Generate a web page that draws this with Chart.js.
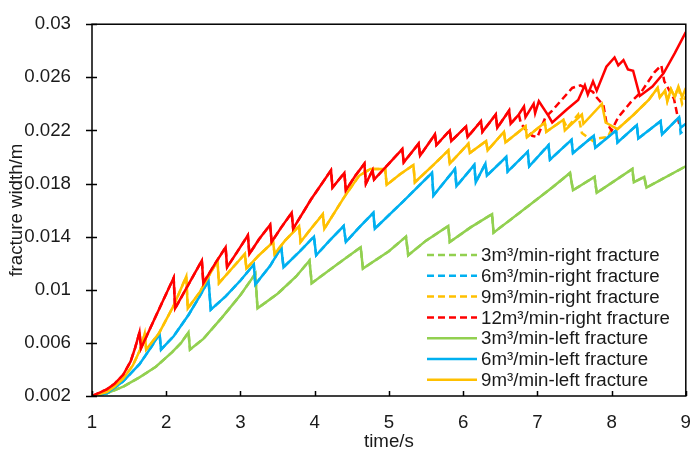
<!DOCTYPE html>
<html>
<head>
<meta charset="utf-8">
<title>fracture width</title>
<script src="https://cdn.jsdelivr.net/npm/chart.js@4"></script>
<style>
    html, body { margin: 0; padding: 0; background: #fff; }
    #wrap { width: 699px; height: 450px; }
</style>
</head>
<body>
<div id="wrap"><canvas id="widthChart" width="699" height="450"></canvas></div>
<script>
// axis ticks
const xTicks = [1, 2, 3, 4, 5, 6, 7, 8, 9];
const yTicks = [0.002, 0.006, 0.01, 0.014, 0.018, 0.022, 0.026, 0.03];

// [time s, width m]
const green3Left = [[1,0.002],[1.2,0.0022],[1.42,0.0027],[1.64,0.0034],[1.86,0.0042],[2.08,0.0053],[2.2,0.006],[2.3,0.0068],[2.32,0.0055],
    [2.5,0.0063],[2.75,0.0079],[3.0,0.0096],[3.2,0.0112],[3.23,0.0086],[3.5,0.0097],[3.75,0.011],[3.93,0.0122],[3.96,0.0105],
    [4.3,0.0119],[4.62,0.0132],[4.65,0.0116],[5.0,0.0129],[5.23,0.014],[5.26,0.0126],[5.5,0.0137],[5.8,0.0148],[5.82,0.0136],
    [6.1,0.0147],[6.39,0.0157],[6.41,0.0143],[6.9,0.0164],[7.2,0.0177],[7.44,0.0188],[7.48,0.0175],[7.77,0.0185],[7.8,0.0173],
    [8.28,0.0191],[8.3,0.0181],[8.44,0.0185],[8.47,0.0177],[9.0,0.0193]];
const green3Right = green3Left;

const blue6Left = [[1,0.002],[1.2,0.0022],[1.42,0.0031],[1.64,0.0044],[1.8,0.0057],[1.91,0.0067],[1.93,0.0055],[2.1,0.0065],
    [2.3,0.0081],[2.45,0.0095],[2.57,0.0107],[2.6,0.0085],[2.8,0.0095],[3.0,0.0107],[3.18,0.0119],[3.2,0.0104],[3.4,0.0118],
    [3.55,0.0132],[3.58,0.0117],[3.8,0.0129],[3.99,0.014],[4.02,0.0126],[4.2,0.0137],[4.39,0.0148],[4.42,0.0136],[4.6,0.0147],
    [4.79,0.0158],[4.81,0.0146],[5.2,0.0167],[5.58,0.0188],[5.6,0.0171],[5.89,0.0191],[5.91,0.0178],[6.15,0.0194],[6.17,0.0181],
    [6.3,0.0195],[6.32,0.0186],[6.58,0.02],[6.6,0.0189],[6.87,0.0204],[6.89,0.0193],[7.15,0.0209],[7.17,0.0198],[7.46,0.0213],
    [7.48,0.0203],[7.76,0.0216],[7.78,0.0207],[8.06,0.022],[8.08,0.0211],[8.34,0.0224],[8.36,0.0214],[8.66,0.0227],[8.68,0.0217],
    [8.91,0.023],[8.93,0.0222],[9.0,0.0225]];
const blue6RightTail = [[8.91,0.023],[8.93,0.0218],[9.0,0.0221]];

const orange9Left = [[1,0.002],[1.2,0.0023],[1.3,0.0027],[1.42,0.0033],[1.55,0.0043],[1.65,0.0055],[1.71,0.0067],[1.73,0.0055],
    [1.9,0.0067],[2.1,0.0088],[2.27,0.011],[2.29,0.0086],[2.45,0.0098],[2.69,0.0122],[2.71,0.0105],[2.9,0.0117],[3.06,0.0127],
    [3.08,0.0116],[3.25,0.0126],[3.44,0.0136],[3.46,0.0127],[3.6,0.0137],[3.79,0.0148],[3.81,0.0136],[3.95,0.0146],[4.11,0.0157],
    [4.13,0.0146],[4.4,0.017],[4.6,0.0186],[4.75,0.0191],[4.95,0.0191],[4.97,0.0179],[5.15,0.0187],[5.33,0.0194],[5.35,0.0181],
    [5.6,0.0194],[5.8,0.0205],[5.82,0.0195],[6.07,0.021],[6.09,0.0203],[6.31,0.0212],[6.33,0.0205],[6.55,0.0219],[6.57,0.0211],
    [6.84,0.0223],[6.86,0.0215],[7.1,0.0226],[7.12,0.0219],[7.35,0.0228],[7.37,0.022],[7.6,0.0232],[7.62,0.0225],[7.87,0.024],
    [7.92,0.0226],[8.08,0.0221],[8.3,0.0232],[8.5,0.0243],[8.62,0.0252],[8.65,0.0245],[8.72,0.025],[8.75,0.0242],[8.8,0.0251],
    [8.85,0.0245],[8.9,0.0253],[8.95,0.0245],[9.0,0.0252]];
const orange9RightMid = [[7.35,0.0228],[7.4,0.0222],[7.55,0.0232],[7.6,0.0218],[7.75,0.0212],[7.82,0.0214],[7.95,0.0215],[8.0,0.0221]];
const orange9RightTail = [[8.9,0.0253],[8.95,0.024],[9.0,0.0246]];

const red12Left = [[1,0.002],[1.2,0.0025],[1.3,0.0029],[1.42,0.0036],[1.52,0.0046],[1.58,0.0056],[1.64,0.0068],[1.66,0.0056],
    [1.85,0.0079],[2.1,0.0109],[2.12,0.0086],[2.3,0.0104],[2.48,0.0122],[2.5,0.0105],[2.65,0.0119],[2.8,0.0132],[2.82,0.0117],
    [2.95,0.0128],[3.1,0.0141],[3.12,0.0127],[3.25,0.0138],[3.4,0.0149],[3.42,0.0136],[3.55,0.0147],[3.69,0.0158],[3.71,0.0146],
    [3.95,0.0168],[4.22,0.019],[4.24,0.0177],[4.4,0.0188],[4.42,0.0175],[4.55,0.0186],[4.67,0.0195],[4.69,0.018],[4.78,0.019],
    [4.8,0.0183],[5.0,0.0195],[5.18,0.0206],[5.2,0.0196],[5.4,0.021],[5.42,0.0201],[5.62,0.0217],[5.64,0.0209],[5.82,0.022],
    [5.84,0.0212],[6.04,0.0223],[6.06,0.0215],[6.24,0.0227],[6.26,0.0219],[6.44,0.0232],[6.46,0.0222],[6.62,0.0235],[6.64,0.0225],
    [6.75,0.0232],[6.82,0.0238],[6.84,0.023],[6.95,0.024],[6.97,0.0233],[7.02,0.0242],[7.15,0.0231],[7.2,0.0226],[7.4,0.0236],
    [7.55,0.0243],[7.64,0.0254],[7.68,0.0247],[7.75,0.0257],[7.8,0.025],[7.93,0.0268],[8.04,0.0275],[8.09,0.0269],[8.16,0.0273],
    [8.22,0.0266],[8.29,0.0265],[8.38,0.0246],[8.55,0.0253],[8.7,0.0263],[8.85,0.0278],[9.0,0.0294]];
const red12RightTail = [[6.78,0.0225],[6.84,0.0221],[6.93,0.0216],[7.0,0.0215],[7.11,0.023],[7.2,0.0235],[7.47,0.0252],[7.58,0.0254],
    [7.75,0.0249],[7.78,0.0246],[7.89,0.0239],[7.93,0.0226],[8.0,0.022],[8.09,0.023],[8.27,0.0242],[8.4,0.0249],[8.58,0.0264],
    [8.67,0.0269],[8.71,0.0257],[8.84,0.0244],[8.91,0.0225]];

// right-fracture curves follow the left ones until they split
const before = (arr, t) => arr.filter(p => p[0] < t);
const after = (arr, t) => arr.filter(p => p[0] > t);
const blue6Right = before(blue6Left, 8.91).concat(blue6RightTail);
const orange9Right = before(orange9Left, 7.35).concat(orange9RightMid, after(orange9Left, 8.05).filter(p => p[0] < 8.9), orange9RightTail);
const red12Right = red12Left.filter(p => p[0] <= 6.75).concat(red12RightTail);

const GREEN = '#92D050', BLUE = '#00B0F0', ORANGE = '#FFC000', RED = '#FF0000';
const DASH = [7, 4];

const series = [
    { label: '3m³/min-right fracture', pts: green3Right, color: GREEN, dash: DASH, legend: true },
    { label: '6m³/min-right fracture', pts: blue6Right, color: BLUE, dash: DASH, legend: true },
    { label: '9m³/min-right fracture', pts: orange9Right, color: ORANGE, dash: DASH, legend: true },
    { label: '12m³/min-right fracture', pts: red12Right, color: RED, dash: DASH, legend: true },
    { label: '3m³/min-left fracture', pts: green3Left, color: GREEN, dash: [], legend: true },
    { label: '6m³/min-left fracture', pts: blue6Left, color: BLUE, dash: [], legend: true },
    { label: '9m³/min-left fracture', pts: orange9Left, color: ORANGE, dash: [], legend: true },
    { label: '12m³/min-left fracture', pts: red12Left, color: RED, dash: [], legend: false }
];

const FONT = { family: 'Arial, "Liberation Sans", sans-serif', size: 18.7 };
const TEXT = '#1a1a1a';

// frame, tick marks and the in-plot legend
const framePlugin = {
    id: 'frame',
    afterDraw(chart) {
        const { ctx, chartArea: a, scales } = chart;
        ctx.save();
        ctx.strokeStyle = '#000';
        ctx.lineWidth = 1.5;
        ctx.strokeRect(a.left, a.top, a.right - a.left, a.bottom - a.top);
        ctx.beginPath();
        xTicks.forEach(v => {
            const x = Math.round(scales.x.getPixelForValue(v)) + 0.5;
            ctx.moveTo(x, a.bottom);
            ctx.lineTo(x, a.bottom - 5);
        });
        yTicks.forEach(v => {
            const y = Math.round(scales.y.getPixelForValue(v)) + 0.5;
            ctx.moveTo(a.left - 6, y);
            ctx.lineTo(a.left + 5, y);
        });
        ctx.stroke();

        // legend
        const lx = 427, ly = 255, rowH = 20.8;
        ctx.font = `${FONT.size}px ${FONT.family}`;
        ctx.textBaseline = 'middle';
        ctx.textAlign = 'left';
        series.filter(s => s.legend).forEach((s, i) => {
            const y = ly + i * rowH;
            ctx.strokeStyle = s.color;
            ctx.lineWidth = 2.5;
            ctx.setLineDash(s.dash);
            ctx.beginPath();
            ctx.moveTo(lx, y);
            ctx.lineTo(lx + 50, y);
            ctx.stroke();
            ctx.setLineDash([]);
            ctx.fillStyle = TEXT;
            ctx.fillText(s.label, lx + 54, y + 1);
        });
        ctx.restore();
    }
};

document.addEventListener('DOMContentLoaded', () => {
    const ctx = document.getElementById('widthChart').getContext('2d');
    new Chart(ctx, {
        type: 'line',
        data: {
            datasets: series.map((s, i) => ({
                label: s.label,
                data: s.pts.map(p => ({ x: p[0], y: p[1] })),
                borderColor: s.color,
                borderDash: s.dash,
                borderWidth: 2.5,
                pointRadius: 0,
                tension: 0,
                fill: false,
                order: series.length - i
            }))
        },
        options: {
            responsive: false,
            animation: false,
            devicePixelRatio: 1,
            layout: { padding: { top: 18, right: 7, left: 0, bottom: 0 } },
            plugins: { legend: { display: false }, tooltip: { enabled: false } },
            scales: {
                x: {
                    type: 'linear',
                    min: 1,
                    max: 9,
                    grid: { display: false },
                    border: { display: false },
                    afterBuildTicks: scale => { scale.ticks = xTicks.map(v => ({ value: v })); },
                    afterFit: scale => { scale.height = 54; },
                    ticks: { font: FONT, color: TEXT, padding: 8, maxRotation: 0 },
                    title: { display: true, text: 'time/s', font: FONT, color: TEXT, padding: { top: 0, bottom: -3 } }
                },
                y: {
                    min: 0.002,
                    max: 0.03,
                    grid: { display: false },
                    border: { display: false },
                    afterBuildTicks: scale => { scale.ticks = yTicks.map(v => ({ value: v })); },
                    afterFit: scale => { scale.width = 92; },
                    ticks: {
                        font: FONT,
                        color: TEXT,
                        padding: 13,
                        callback: v => String(parseFloat(v.toFixed(3)))
                    },
                    title: { display: true, text: 'fracture width/m', font: FONT, color: TEXT, padding: { top: 6, bottom: 0 } }
                }
            }
        },
        plugins: [framePlugin]
    });
});
</script>
</body>
</html>
